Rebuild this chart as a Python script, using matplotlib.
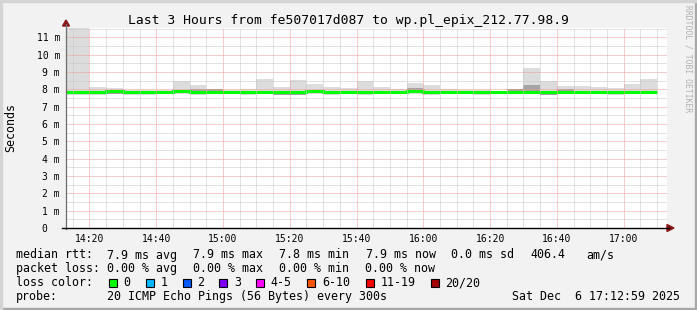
import matplotlib
matplotlib.use("Agg")
import matplotlib.pyplot as plt
from matplotlib.patches import Rectangle, Polygon
from matplotlib.lines import Line2D
import numpy as np

# ---------------- data ----------------
title = "Last 3 Hours from fe507017d087 to wp.pl_epix_212.77.98.9"
bin_starts = ["14:10", "14:15", "14:20", "14:25", "14:30", "14:35", "14:40", "14:45", "14:50",
              "14:55", "15:00", "15:05", "15:10", "15:15", "15:20", "15:25", "15:30", "15:35",
              "15:40", "15:45", "15:50", "15:55", "16:00", "16:05", "16:10", "16:15", "16:20",
              "16:25", "16:30", "16:35", "16:40", "16:45", "16:50", "16:55", "17:00", "17:05"]
# smoke (ms)
ping_max = [11.8, 11.8, 8.13, 8.06, 7.96, 7.96, 7.96, 8.48, 8.25, 8.02, 7.96, 8.02,
            8.60, 8.13, 8.54, 8.31, 8.13, 8.08, 8.46, 8.13, 8.00, 8.37, 8.25, 8.00,
            7.96, 7.96, 7.92, 8.00, 9.25, 8.48, 8.19, 8.19, 8.13, 8.08, 8.31, 8.60]
ping_min = [7.70, 7.70, 7.69, 7.72, 7.66, 7.66, 7.72, 7.75, 7.68, 7.75, 7.75, 7.70,
            7.75, 7.68, 7.66, 7.75, 7.66, 7.72, 7.70, 7.75, 7.75, 7.75, 7.68, 7.75,
            7.75, 7.70, 7.75, 7.75, 7.72, 7.66, 7.72, 7.72, 7.75, 7.70, 7.75, 7.75]
inner_hi = [7.84, 7.84, 7.84, 7.84, 7.84, 7.84, 7.84, 7.84, 8.04, 8.02, 7.84, 7.84,
            7.84, 7.84, 7.84, 7.84, 7.84, 7.84, 7.84, 7.84, 7.84, 8.06, 7.84, 7.84,
            7.84, 7.84, 7.84, 8.00, 8.25, 7.84, 8.04, 7.84, 7.84, 7.84, 7.84, 7.84]
inner_lo = [7.84, 7.84, 7.84, 7.73, 7.75, 7.75, 7.84, 7.84, 7.72, 7.92, 7.84, 7.84,
            7.84, 7.70, 7.69, 7.84, 7.84, 7.84, 7.73, 7.84, 7.84, 7.92, 7.84, 7.84,
            7.84, 7.73, 7.84, 7.92, 7.92, 7.70, 7.92, 7.84, 7.84, 7.84, 7.84, 7.84]
median = [7.84, 7.84, 7.84, 7.88, 7.83, 7.83, 7.84, 7.90, 7.84, 7.84, 7.84, 7.84,
          7.84, 7.84, 7.84, 7.92, 7.84, 7.84, 7.84, 7.84, 7.84, 7.88, 7.84, 7.84,
          7.84, 7.84, 7.84, 7.84, 7.84, 7.84, 7.84, 7.84, 7.84, 7.84, 7.84, 7.84]
bin_minutes = 5
x_start, x_end = "14:12:59", "17:12:59"
y_max = 11.54

x_tick_labels = ["14:20", "14:40", "15:00", "15:20", "15:40", "16:00", "16:20", "16:40", "17:00"]
y_ticks = [0, 1, 2, 3, 4, 5, 6, 7, 8, 9, 10, 11]
y_tick_labels = ["0  ", "1 m", "2 m", "3 m", "4 m", "5 m", "6 m", "7 m", "8 m", "9 m", "10 m", "11 m"]

rtt_stats = ["median rtt:", "7.9 ms avg", "7.9 ms max", "7.8 ms min", "7.9 ms now",
             "0.0 ms sd", "406.4", "am/s"]
loss_stats = ["packet loss:", "0.00 % avg", "0.00 % max", "0.00 % min", "0.00 % now"]
loss_labels = ["0", "1", "2", "3", "4-5", "6-10", "11-19", "20/20"]
loss_colors = ["#00ff00", "#00b8ff", "#0059ff", "#7e00ff", "#ff00ff", "#ff5500", "#ff0000", "#a10000"]
probe_text = ["probe:", "20 ICMP Echo Pings (56 Bytes) every 300s"]
date_text = "Sat Dec  6 17:12:59 2025"


def to_min(s):
    parts = [int(p) for p in s.split(":")]
    m = (parts[0] - 14) * 60 + parts[1]
    if len(parts) > 2:
        m += parts[2] / 60.0
    return m


# ---------------- figure ----------------
W, H = 697, 310
BG = "#f2f2f2"
MONO = "DejaVu Sans Mono"
fig = plt.figure(figsize=(W / 100, H / 100), dpi=100, facecolor=BG)

L, R, T, B = 66, 667, 28, 228


def fx(px):
    return px / W


def fy(py):
    return 1 - py / H


ax = fig.add_axes([fx(L), fy(B), (R - L) / W, (B - T) / H])
ax.set_facecolor("white")

starts = np.array([to_min(s) for s in bin_starts])
edges = np.append(starts, starts[-1] + bin_minutes)
pmax = np.array(ping_max)
pmin = np.array(ping_min)
ihi = np.array(inner_hi)
ilo = np.array(inner_lo)

ax.bar(starts, pmax - pmin, bottom=pmin, width=bin_minutes, align="edge",
       color="#dcdcdc", linewidth=0, zorder=2)
ax.bar(starts, ihi - ilo, bottom=ilo, width=bin_minutes, align="edge",
       color="#a4a4a4", linewidth=0, zorder=2.1)
ax.stairs(median, edges, baseline=None, color="#00ff00", linewidth=2.2, zorder=2.5)

ax.set_xlim(to_min(x_start), to_min(x_end))
ax.set_ylim(0, y_max)

xt = [to_min(s) for s in x_tick_labels]
ax.set_xticks(xt)
ax.set_xticklabels(x_tick_labels, fontfamily=MONO, fontsize=7)
ax.set_xticks(np.arange(15, 195, 5), minor=True)
ax.set_yticks(y_ticks)
ax.set_yticklabels(y_tick_labels, fontfamily=MONO, fontsize=7)
ax.set_yticks(np.arange(0.5, 11.6, 1.0), minor=True)
ax.tick_params(which="both", length=0)
ax.tick_params(axis="x", pad=4.0)
ax.tick_params(axis="y", pad=4.3)

ax.grid(which="minor", color="#c6c6c6", linestyle=(0, (1, 1)), linewidth=0.72, zorder=3)
ax.grid(which="major", color="#f29a9a", linestyle=(0, (1, 1)), linewidth=0.72, zorder=3.1)
ax.set_axisbelow(False)
for s in ax.spines.values():
    s.set_visible(False)

# axes lines and arrows (decoration)
fig.lines.append(Line2D([fx(L), fx(L)], [fy(B + 1), fy(24)], color="#6e6e6e",
                        linewidth=0.9, transform=fig.transFigure))
fig.lines.append(Line2D([fx(62), fx(669)], [fy(B), fy(B)], color="black",
                        linewidth=1.0, transform=fig.transFigure))
fig.patches.append(Polygon([[fx(L - 3.5), fy(26)], [fx(L + 3.5), fy(26)], [fx(L), fy(20)]],
                           closed=True, color="#8a1515", transform=fig.transFigure))
fig.patches.append(Polygon([[fx(667), fy(B - 3.5)], [fx(667), fy(B + 3.5)], [fx(674), fy(B)]],
                           closed=True, color="#8a1515", transform=fig.transFigure))

# frame
fig.patches.append(Rectangle((0, 0), 1, fy(308), color="#a8a8a8", transform=fig.transFigure, zorder=0))
fig.patches.append(Rectangle((fx(695), 0), 1 - fx(695), 1, color="#a8a8a8", transform=fig.transFigure, zorder=0))
fig.patches.append(Rectangle((0, fy(2)), 1, 1 - fy(2), color="#d4d4d4", transform=fig.transFigure, zorder=0))
fig.patches.append(Rectangle((0, 0), fx(2), 1, color="#d4d4d4", transform=fig.transFigure, zorder=0))

# title, labels
fig.text(fx(348.5), fy(24), title, fontfamily=MONO, fontsize=9.4, ha="center", va="baseline")
fig.text(fx(11), fy(128), "Seconds", fontfamily=MONO, fontsize=8.4, rotation=90,
         ha="center", va="center")
fig.text(fx(688), fy(5), "RRDTOOL / TOBI OETIKER", fontfamily=MONO, fontsize=5.8,
         rotation=270, ha="center", va="top", color="#b0b0b0")

# legend
LF = 8.4
base = [258.5, 272.4, 286.3, 300.1]
rtt_x = [16, 107, 193.5, 279, 366, 451, 530, 586]
for s, x in zip(rtt_stats, rtt_x):
    fig.text(fx(x), fy(base[0]), s, fontfamily=MONO, fontsize=LF, va="baseline")
loss_x = [16, 107, 193, 279, 365]
for s, x in zip(loss_stats, loss_x):
    fig.text(fx(x), fy(base[1]), s, fontfamily=MONO, fontsize=LF, va="baseline")
fig.text(fx(16), fy(base[2]), "loss color:", fontfamily=MONO, fontsize=LF, va="baseline")
box_x = [108.7, 145.7, 182.7, 219, 256, 307, 366, 430.7]
lab_x = [123, 160.7, 197, 234, 270.7, 322, 380.7, 445]
for lab, c, bx, lx in zip(loss_labels, loss_colors, box_x, lab_x):
    fig.patches.append(Rectangle((fx(bx), fy(286.7)), 8 / W, 8 / H, facecolor=c,
                                 edgecolor="black", linewidth=0.8, transform=fig.transFigure))
    fig.text(fx(lx), fy(base[2]), lab, fontfamily=MONO, fontsize=LF, va="baseline")
fig.text(fx(16), fy(base[3]), probe_text[0], fontfamily=MONO, fontsize=LF, va="baseline")
fig.text(fx(107), fy(base[3]), probe_text[1], fontfamily=MONO, fontsize=LF, va="baseline")
fig.text(fx(680), fy(base[3]), date_text, fontfamily=MONO, fontsize=LF, va="baseline", ha="right")

fig.savefig("out.png", dpi=100, facecolor=BG)
